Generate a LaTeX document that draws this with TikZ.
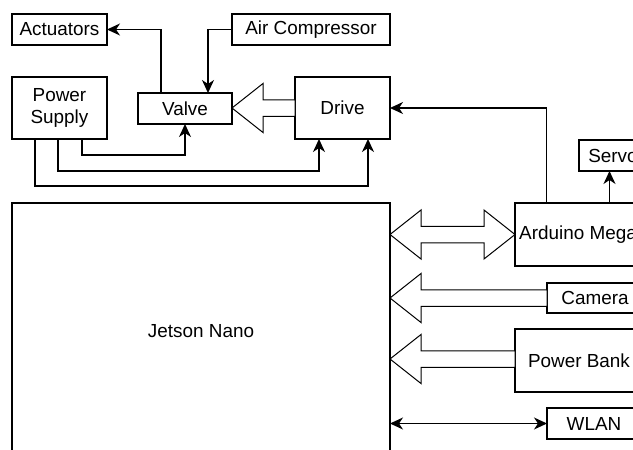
\documentclass[tikz,border=0pt]{standalone}
\usepackage{fontspec}
\setmainfont{Liberation Sans}
\usetikzlibrary{calc, arrows.meta}

\tikzset{
  blk/.style={draw, line width=1.3pt, inner sep=0pt, outer sep=0pt, align=center},
  % hollow arrow, tip at the target
  fatleft/.style={line width=1pt, fill=white, to path={
    let \p1=(\tikztostart), \p2=(\tikztotarget) in
    (\x1,\y1+8.25pt) -- (\x2+31pt,\y1+8.25pt) -- (\x2+31pt,\y1+24.5pt) -- (\x2,\y1)
    -- (\x2+31pt,\y1-24.5pt) -- (\x2+31pt,\y1-8.25pt) -- (\x1,\y1-8.25pt) -- cycle}},
  % hollow arrow, tips at both ends
  fatboth/.style={line width=1pt, fill=white, to path={
    let \p1=(\tikztostart), \p2=(\tikztotarget) in
    (\x1,\y1) -- (\x1+31pt,\y1+24.5pt) -- (\x1+31pt,\y1+8.25pt) -- (\x2-31pt,\y1+8.25pt)
    -- (\x2-31pt,\y1+24.5pt) -- (\x2,\y1) -- (\x2-31pt,\y1-24.5pt) -- (\x2-31pt,\y1-8.25pt)
    -- (\x1+31pt,\y1-8.25pt) -- (\x1+31pt,\y1-24.5pt) -- cycle}}
}

\begin{document}
\begin{tikzpicture}[x=1pt, y=-1pt, >={Stealth[length=13pt, width=12pt, inset=4pt]},
    font={\fontsize{18.9}{22}\selectfont}, line width=1.3pt]
  \useasboundingbox (0,0) rectangle (633,450);
  \clip (0,0) rectangle (633,450);
  % pneumatic side
  \node[blk, minimum width=95pt, minimum height=31pt] (act) at (59.5,29.5) {Actuators};
  \node[blk, minimum width=158pt, minimum height=31pt] (air) at (311,29.5) {Air Compressor};
  \node[blk, minimum width=95pt, minimum height=62pt] (ps) at (59.5,108) {Power\\Supply};
  \node[blk, minimum width=94pt, minimum height=31pt] (valve) at (185,108.5) {Valve};
  \node[blk, minimum width=95pt, minimum height=62pt] (drive) at (342.5,108) {Drive};
  % controller side
  \node[blk, minimum width=378pt, minimum height=256pt] (jetson) at (201,331) {Jetson Nano};
  \node[blk, minimum width=68pt, minimum height=31pt] (servo) at (613,155.5) {Servo};
  \node[blk, minimum width=126pt, minimum height=63pt] (ard) at (578,234.5) {Arduino Mega};
  \node[blk, minimum width=96pt, minimum height=30pt] (cam) at (595,298) {Camera};
  \node[blk, minimum width=128pt, minimum height=63pt] (pb) at (579,360.5) {Power Bank};
  \node[blk, minimum width=94pt, minimum height=31pt] (wlan) at (594,423.5) {WLAN};

  \draw[->] ([xshift=-24pt]valve.north) |- (act.east);
  \draw[->] (air.west) -| ([xshift=23pt]valve.north);
  \draw[->] ([xshift=22.5pt]ps.south) -- ++(0,16) -| (valve.south);
  \draw[->] ([xshift=-1.5pt]ps.south) -- ++(0,32) -| ([xshift=-23.5pt]drive.south);
  \draw[->] ([xshift=-24.5pt]ps.south) -- ++(0,47) -| ([xshift=25.5pt]drive.south);
  \draw[fatleft] (drive.west) to (valve.east);

  \draw[->] ([xshift=-31.5pt]ard.north) |- (drive.east);
  \draw[->] ([xshift=31.5pt]ard.north) -- ([xshift=31.5pt]ard.north |- servo.south);
  \draw[fatboth] (jetson.east |- ard.west) to (ard.west);
  \draw[fatleft] (cam.west) to (jetson.east);
  \draw[fatleft] ([yshift=1.5pt]pb.west) to (jetson.east);
  \draw[<->] (jetson.east |- wlan.west) -- (wlan.west);
\end{tikzpicture}
\end{document}
